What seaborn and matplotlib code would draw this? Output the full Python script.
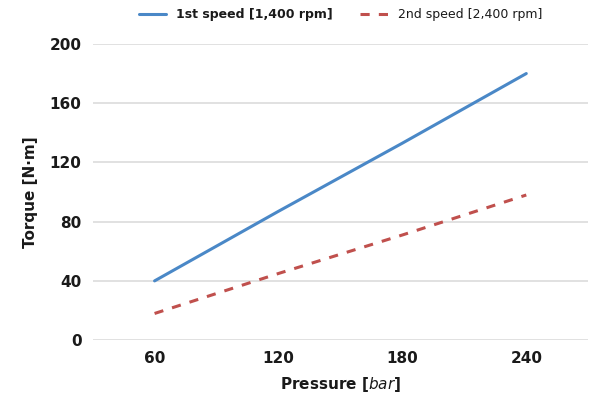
import pandas as pd
import matplotlib
matplotlib.use('Agg')
import matplotlib.pyplot as plt
import seaborn as sns

# chart data
pressure = [60, 120, 180, 240]
torque_1st = [40, 87, 133, 180]
torque_2nd = [18, 45, 71, 98]
series_names = ['1st speed [1,400 rpm]', '2nd speed [2,400 rpm]']

df = pd.DataFrame({
    'Pressure': [str(p) for p in pressure] * 2,
    'Torque': torque_1st + torque_2nd,
    'Series': [series_names[0]] * 4 + [series_names[1]] * 4,
})

sns.set_style('white')
plt.rcParams['font.family'] = ['DejaVu Sans']

fig = plt.figure(figsize=(5.9, 4.03), dpi=100)
ax = fig.add_axes([0.157, 0.156, 0.84, 0.735])

sns.lineplot(data=df, x='Pressure', y='Torque', hue='Series', style='Series',
             palette=['#4a88c7', '#c0504d'], dashes=[(None, None), (3, 3)],
             linewidth=2.2, sort=False, ax=ax)

ax.set_xlim(-0.5, 3.5)
ax.set_ylim(0, 200)
ax.set_yticks([0, 40, 80, 120, 160, 200])
ax.yaxis.grid(True, color='#dcdcdc', linewidth=1.2)
ax.set_axisbelow(True)
for s in ax.spines.values():
    s.set_visible(False)
ax.tick_params(length=0, labelsize=11, colors='#1a1a1a', pad=8)
for lbl in ax.get_xticklabels() + ax.get_yticklabels():
    lbl.set_fontweight('bold')

ax.set_xlabel('Pressure [$bar$]', fontsize=11, fontweight='bold', color='#1a1a1a', labelpad=6)
ax.set_ylabel('Torque [N·m]', fontsize=11, fontweight='bold', color='#1a1a1a', labelpad=8)

leg = ax.legend(loc='lower center', bbox_to_anchor=(0.5, 1.06), ncol=2, frameon=False,
                fontsize=9, handlelength=2.2, columnspacing=2.2, borderaxespad=0)
for t in leg.get_texts():
    t.set_color('#1a1a1a')
leg.get_texts()[0].set_fontweight('bold')

plt.savefig('out.png', dpi=100)
